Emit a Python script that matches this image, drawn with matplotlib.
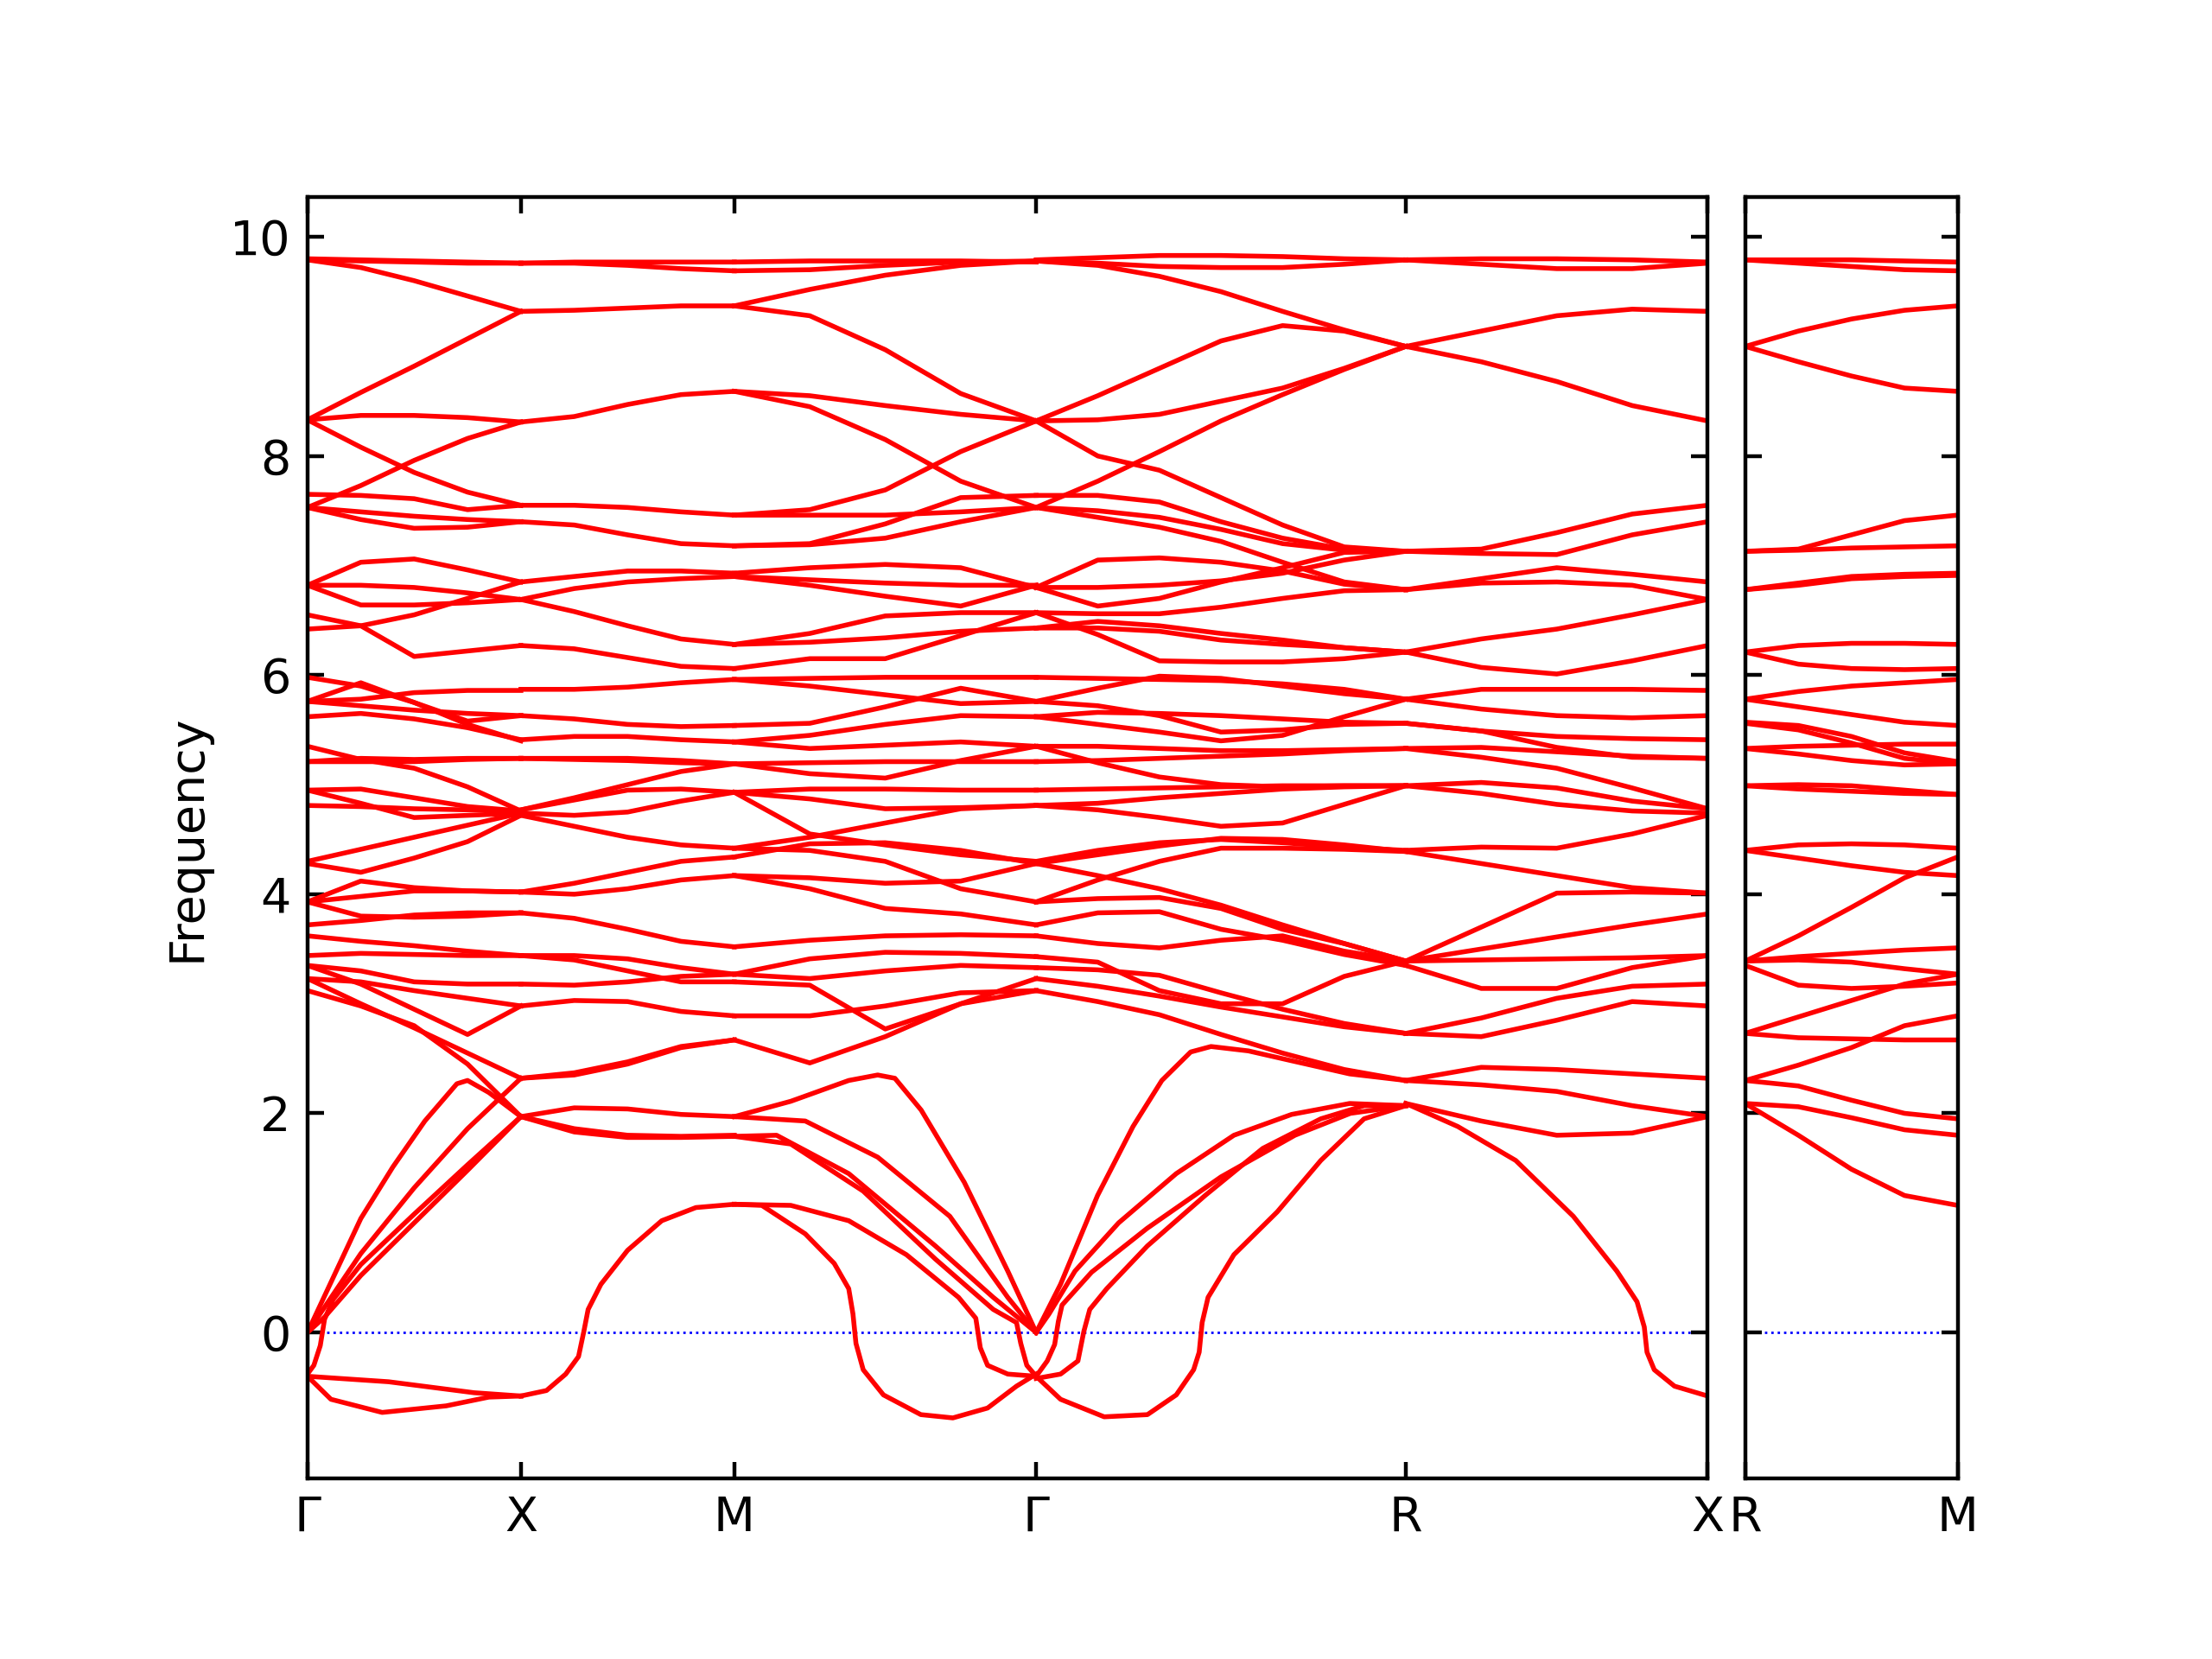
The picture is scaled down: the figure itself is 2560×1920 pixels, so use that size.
import numpy as np
import matplotlib
matplotlib.use('Agg')
import matplotlib.pyplot as plt

# high-symmetry path: segment lengths in reciprocal units
labels_main = ['Γ', 'X', 'M', 'Γ', 'R', 'X']
seg_len = [1.0, 1.0, np.sqrt(2), np.sqrt(3), np.sqrt(2)]
labels_side = ['R', 'M']

# ---- band values read along each segment (equally spaced samples) ----
gx_bands = [
    [9.79, 9.78, 9.77, 9.76, 9.76],
    [9.80, 9.79, 9.78, 9.77, 9.76],
    [9.79, 9.72, 9.60, 9.46, 9.32],
    [8.33, 8.58, 8.82, 9.07, 9.32],
    [8.33, 8.37, 8.37, 8.35, 8.31],
    [8.33, 8.08, 7.85, 7.67, 7.55],
    [7.53, 7.73, 7.96, 8.16, 8.31],
    [7.65, 7.64, 7.61, 7.51, 7.55],
    [7.53, 7.49, 7.45, 7.42, 7.40],
    [7.53, 7.42, 7.34, 7.35, 7.40],
    [6.82, 7.03, 7.06, 6.96, 6.85],
    [6.82, 6.82, 6.80, 6.75, 6.69],
    [6.82, 6.64, 6.64, 6.66, 6.69],
    [6.42, 6.45, 6.55, 6.70, 6.85],
    [6.55, 6.45, 6.17, 6.22, 6.27],
    [5.98, 5.90, 5.75, 5.55, 5.40],
    [5.76, 5.93, 5.75, 5.58, 5.63],
    [5.76, 5.78, 5.84, 5.86, 5.86],
    [5.76, 5.72, 5.68, 5.65, 5.63],
    [5.62, 5.65, 5.60, 5.52, 5.41],
    [5.35, 5.23, 5.15, 4.98, 4.76],
    [5.21, 5.21, 5.21, 5.23, 5.24],
    [5.21, 5.24, 5.23, 5.24, 5.24],
    [4.95, 4.96, 4.88, 4.80, 4.76],
    [4.81, 4.80, 4.78, 4.77, 4.76],
    [4.95, 4.83, 4.70, 4.72, 4.74],
    [4.30, 4.41, 4.52, 4.63, 4.74],
    [4.28, 4.20, 4.33, 4.48, 4.72],
    [3.93, 4.12, 4.06, 4.03, 4.02],
    [3.93, 3.98, 4.03, 4.03, 4.02],
    [3.93, 3.80, 3.79, 3.80, 3.83],
    [3.72, 3.76, 3.81, 3.83, 3.83],
    [3.62, 3.57, 3.53, 3.48, 3.44],
    [3.44, 3.46, 3.45, 3.44, 3.44],
    [3.35, 3.30, 3.20, 3.18, 3.18],
    [3.35, 3.18, 2.95, 2.72, 2.98],
    [3.23, 3.20, 3.12, 3.05, 2.98],
    [3.23, 3.00, 2.78, 2.55, 2.32],
    [3.12, 2.98, 2.80, 2.45, 1.97],
]

xm_bands = [
    [9.76, 9.77, 9.77, 9.77, 9.77],
    [9.76, 9.76, 9.74, 9.71, 9.69],
    [9.32, 9.33, 9.35, 9.37, 9.37],
    [8.31, 8.36, 8.47, 8.56, 8.59],
    [7.55, 7.55, 7.53, 7.49, 7.46],
    [7.40, 7.37, 7.28, 7.20, 7.18],
    [6.85, 6.90, 6.95, 6.95, 6.93],
    [6.69, 6.79, 6.85, 6.88, 6.90],
    [6.69, 6.58, 6.45, 6.33, 6.28],
    [6.27, 6.24, 6.16, 6.08, 6.06],
    [5.87, 5.87, 5.89, 5.93, 5.96],
    [5.63, 5.60, 5.55, 5.53, 5.54],
    [5.41, 5.44, 5.44, 5.41, 5.39],
    [5.24, 5.24, 5.24, 5.22, 5.19],
    [5.24, 5.23, 5.22, 5.20, 5.19],
    [4.77, 4.88, 5.00, 5.12, 5.19],
    [4.77, 4.86, 4.95, 4.96, 4.93],
    [4.74, 4.72, 4.75, 4.85, 4.93],
    [4.72, 4.62, 4.52, 4.45, 4.42],
    [4.02, 4.10, 4.20, 4.30, 4.34],
    [4.02, 4.00, 4.05, 4.13, 4.17],
    [3.83, 3.78, 3.68, 3.57, 3.52],
    [3.44, 3.44, 3.41, 3.33, 3.27],
    [3.44, 3.40, 3.30, 3.20, 3.20],
    [3.18, 3.17, 3.20, 3.25, 3.27],
    [2.98, 3.03, 3.02, 2.93, 2.89],
    [2.32, 2.35, 2.45, 2.60, 2.67],
    [2.32, 2.37, 2.47, 2.61, 2.67],
    [1.97, 2.05, 2.04, 1.99, 1.97],
    [1.97, 1.83, 1.78, 1.78, 1.79],
    [1.97, 1.86, 1.80, 1.79, 1.80],
]

mg_bands = [
    [9.77, 9.78, 9.78, 9.78, 9.77],
    [9.69, 9.70, 9.74, 9.77, 9.78],
    [9.37, 9.52, 9.65, 9.74, 9.78],
    [9.37, 9.28, 8.97, 8.57, 8.32],
    [8.59, 8.55, 8.46, 8.38, 8.32],
    [8.59, 8.45, 8.15, 7.77, 7.53],
    [7.46, 7.51, 7.69, 8.04, 8.32],
    [7.46, 7.46, 7.46, 7.49, 7.53],
    [7.18, 7.20, 7.38, 7.62, 7.64],
    [7.18, 7.19, 7.25, 7.40, 7.53],
    [6.93, 6.98, 7.01, 6.98, 6.80],
    [6.90, 6.87, 6.84, 6.82, 6.82],
    [6.90, 6.82, 6.72, 6.63, 6.82],
    [6.28, 6.38, 6.54, 6.57, 6.57],
    [6.06, 6.15, 6.15, 6.36, 6.57],
    [6.28, 6.30, 6.34, 6.40, 6.43],
    [5.96, 5.97, 5.98, 5.98, 5.98],
    [5.96, 5.90, 5.82, 5.74, 5.76],
    [5.54, 5.56, 5.71, 5.88, 5.76],
    [5.39, 5.45, 5.55, 5.63, 5.62],
    [5.39, 5.33, 5.36, 5.39, 5.35],
    [5.19, 5.20, 5.21, 5.21, 5.21],
    [5.19, 5.10, 5.06, 5.22, 5.35],
    [4.93, 4.96, 4.96, 4.95, 4.95],
    [4.93, 4.87, 4.78, 4.79, 4.81],
    [4.93, 4.55, 4.45, 4.36, 4.30],
    [4.42, 4.52, 4.65, 4.78, 4.81],
    [4.42, 4.40, 4.30, 4.05, 3.93],
    [4.34, 4.46, 4.47, 4.40, 4.28],
    [4.17, 4.05, 3.87, 3.82, 3.72],
    [4.17, 4.15, 4.10, 4.12, 4.28],
    [3.52, 3.58, 3.62, 3.63, 3.62],
    [3.27, 3.41, 3.47, 3.46, 3.43],
    [3.27, 3.23, 3.30, 3.35, 3.33],
    [3.20, 3.17, 2.77, 3.00, 3.23],
    [2.89, 2.89, 2.98, 3.10, 3.12],
    [2.67, 2.46, 2.70, 3.00, 3.12],
]

gr_bands = [
    [9.79, 9.81, 9.83, 9.83, 9.82, 9.80, 9.79],
    [9.78, 9.76, 9.73, 9.72, 9.72, 9.75, 9.79],
    [9.78, 9.74, 9.64, 9.50, 9.32, 9.15, 9.00],
    [8.32, 8.55, 8.80, 9.05, 9.19, 9.14, 9.00],
    [8.32, 8.33, 8.38, 8.50, 8.62, 8.80, 9.00],
    [8.32, 8.00, 7.87, 7.62, 7.37, 7.17, 7.13],
    [7.53, 7.77, 8.04, 8.32, 8.56, 8.79, 9.00],
    [7.64, 7.64, 7.58, 7.40, 7.25, 7.15, 7.13],
    [7.53, 7.50, 7.44, 7.33, 7.20, 7.14, 7.13],
    [7.53, 7.44, 7.35, 7.22, 7.03, 6.85, 6.78],
    [6.80, 7.05, 7.07, 7.03, 6.95, 6.83, 6.78],
    [6.80, 6.80, 6.82, 6.86, 6.93, 7.05, 7.13],
    [6.80, 6.63, 6.70, 6.85, 6.98, 7.12, 7.13],
    [6.57, 6.56, 6.56, 6.62, 6.70, 6.77, 6.78],
    [6.43, 6.49, 6.45, 6.38, 6.32, 6.25, 6.21],
    [6.57, 6.37, 6.13, 6.12, 6.12, 6.15, 6.21],
    [6.43, 6.43, 6.40, 6.32, 6.28, 6.25, 6.21],
    [5.98, 5.97, 5.96, 5.95, 5.92, 5.87, 5.78],
    [5.76, 5.88, 5.99, 5.97, 5.90, 5.83, 5.78],
    [5.76, 5.72, 5.63, 5.48, 5.50, 5.55, 5.56],
    [5.62, 5.66, 5.65, 5.63, 5.60, 5.57, 5.56],
    [5.62, 5.55, 5.48, 5.40, 5.45, 5.62, 5.78],
    [5.35, 5.35, 5.33, 5.31, 5.31, 5.32, 5.33],
    [5.21, 5.22, 5.24, 5.26, 5.28, 5.31, 5.33],
    [5.35, 5.20, 5.07, 5.00, 4.98, 4.99, 4.99],
    [4.95, 4.96, 4.97, 4.98, 4.99, 4.99, 4.99],
    [4.81, 4.77, 4.70, 4.62, 4.65, 4.82, 4.99],
    [4.81, 4.83, 4.88, 4.92, 4.96, 4.98, 4.99],
    [4.30, 4.40, 4.47, 4.50, 4.47, 4.43, 4.40],
    [4.28, 4.36, 4.44, 4.51, 4.50, 4.45, 4.39],
    [3.93, 4.13, 4.30, 4.42, 4.42, 4.41, 4.39],
    [4.28, 4.17, 4.05, 3.90, 3.72, 3.55, 3.39],
    [3.93, 3.96, 3.97, 3.87, 3.68, 3.55, 3.39],
    [3.72, 3.83, 3.84, 3.68, 3.58, 3.45, 3.35],
    [3.62, 3.55, 3.51, 3.58, 3.62, 3.48, 3.39],
    [3.43, 3.38, 3.12, 3.00, 3.00, 3.25, 3.39],
    [3.33, 3.31, 3.26, 3.10, 2.95, 2.82, 2.73],
    [3.23, 3.16, 3.07, 2.97, 2.88, 2.79, 2.73],
    [3.12, 3.02, 2.90, 2.72, 2.55, 2.40, 2.30],
]

rx_bands = [
    [9.79, 9.80, 9.80, 9.79, 9.77],
    [9.79, 9.75, 9.71, 9.71, 9.76],
    [9.00, 9.14, 9.28, 9.34, 9.32],
    [9.00, 8.86, 8.68, 8.46, 8.32],
    [7.13, 7.15, 7.30, 7.47, 7.55],
    [7.13, 7.11, 7.10, 7.28, 7.40],
    [6.78, 6.88, 6.98, 6.92, 6.85],
    [6.78, 6.84, 6.85, 6.82, 6.69],
    [6.21, 6.33, 6.42, 6.55, 6.69],
    [6.21, 6.07, 6.01, 6.13, 6.27],
    [5.78, 5.87, 5.87, 5.87, 5.86],
    [5.78, 5.69, 5.63, 5.61, 5.63],
    [5.56, 5.49, 5.44, 5.42, 5.41],
    [5.56, 5.49, 5.34, 5.25, 5.24],
    [5.33, 5.34, 5.30, 5.26, 5.24],
    [5.33, 5.25, 5.15, 4.97, 4.78],
    [4.99, 5.02, 4.97, 4.85, 4.78],
    [4.99, 4.92, 4.82, 4.76, 4.74],
    [4.40, 4.43, 4.42, 4.55, 4.72],
    [4.39, 4.28, 4.17, 4.06, 4.01],
    [3.39, 3.70, 4.01, 4.02, 4.01],
    [3.39, 3.50, 3.61, 3.72, 3.82],
    [3.39, 3.40, 3.41, 3.42, 3.44],
    [3.35, 3.14, 3.14, 3.33, 3.44],
    [2.73, 2.87, 3.05, 3.16, 3.18],
    [2.73, 2.70, 2.85, 3.02, 2.98],
    [2.30, 2.42, 2.40, 2.36, 2.32],
    [2.30, 2.26, 2.20, 2.07, 1.97],
    [2.09, 1.93, 1.80, 1.82, 1.97],
]

rm_bands = [
    [9.79, 9.79, 9.79, 9.78, 9.77],
    [9.79, 9.76, 9.73, 9.70, 9.69],
    [9.00, 9.14, 9.25, 9.33, 9.37],
    [9.00, 8.86, 8.73, 8.62, 8.59],
    [7.13, 7.15, 7.28, 7.41, 7.46],
    [7.13, 7.14, 7.16, 7.17, 7.18],
    [6.78, 6.82, 6.88, 6.90, 6.91],
    [6.78, 6.84, 6.90, 6.92, 6.93],
    [6.21, 6.27, 6.29, 6.29, 6.28],
    [6.21, 6.10, 6.06, 6.05, 6.06],
    [5.78, 5.85, 5.90, 5.93, 5.96],
    [5.78, 5.71, 5.64, 5.57, 5.54],
    [5.57, 5.54, 5.44, 5.29, 5.21],
    [5.56, 5.50, 5.38, 5.24, 5.19],
    [5.33, 5.35, 5.36, 5.37, 5.37],
    [5.33, 5.28, 5.22, 5.18, 5.19],
    [4.99, 5.00, 4.99, 4.95, 4.91],
    [4.99, 4.96, 4.94, 4.92, 4.91],
    [4.40, 4.45, 4.46, 4.45, 4.42],
    [4.40, 4.33, 4.26, 4.20, 4.17],
    [3.39, 3.62, 3.88, 4.15, 4.34],
    [3.39, 3.43, 3.46, 3.49, 3.51],
    [3.35, 3.17, 3.14, 3.16, 3.19],
    [3.39, 3.40, 3.38, 3.32, 3.27],
    [2.73, 2.88, 3.03, 3.18, 3.27],
    [2.73, 2.69, 2.68, 2.67, 2.67],
    [2.30, 2.44, 2.60, 2.80, 2.89],
    [2.30, 2.25, 2.12, 2.00, 1.95],
    [2.09, 2.06, 1.96, 1.85, 1.80],
    [2.09, 1.80, 1.49, 1.25, 1.16],
]

# ---- acoustic / soft branches: (fraction along segment, frequency) ----
gx_soft = [
    ([0, .25, .4, .55, .7, .75, .85, 1], [0, 1.04, 1.51, 1.93, 2.27, 2.30, 2.19, 1.97]),
    ([0, .25, .5, .75, 1], [0, 0.72, 1.32, 1.86, 2.32]),
    ([0, .08, .25, .5, .75, 1], [0, 0.14, 0.52, 1.0, 1.48, 1.97]),
    ([0, .03, .06, .08, .12, .25, .5, .75, 1], [-0.38, -0.30, -0.12, 0.12, 0.30, 0.62, 1.08, 1.53, 1.97]),
    ([0, .38, .78, 1], [-0.40, -0.45, -0.55, -0.58]),
    ([0, .11, .35, .65, .85, 1], [-0.40, -0.61, -0.73, -0.67, -0.59, -0.58]),
]

xm_soft = [
    ([0, .12, .21, .27, .295, .315, .375, .5, .66, .82, 1],
     [-0.58, -0.53, -0.38, -0.22, 0.01, 0.21, 0.44, 0.75, 1.02, 1.14, 1.17]),
]

mg_soft = [
    ([0, .187, .379, .475, .532, .619, .762, .906, 1], [1.97, 2.11, 2.30, 2.35, 2.32, 2.03, 1.37, 0.56, 0]),
    ([0, .235, .475, .714, .906, 1], [1.97, 1.93, 1.60, 1.06, 0.32, 0]),
    ([0, .14, .379, .666, .858, 1], [1.79, 1.80, 1.45, 0.79, 0.32, 0]),
    ([0, .187, .427, .666, .858, .935, .949, .969, 1], [1.79, 1.72, 1.29, 0.67, 0.21, 0.09, -0.10, -0.30, -0.40]),
    ([0, .091, .235, .331, .379, .393, .403, .427, .494, .618, .724, .839, .935, 1],
     [1.17, 1.16, 0.90, 0.63, 0.40, 0.17, -0.10, -0.34, -0.57, -0.75, -0.78, -0.69, -0.49, -0.38]),
    ([0, .187, .379, .57, .743, .8, .815, .839, .906, 1],
     [1.17, 1.16, 1.02, 0.71, 0.32, 0.13, -0.14, -0.30, -0.38, -0.40]),
]

gr_soft = [
    ([0, .066, .166, .262, .34, .418, .473, .574, .691, .848, 1],
     [0, 0.44, 1.25, 1.88, 2.30, 2.56, 2.61, 2.57, 2.48, 2.36, 2.30]),
    ([0, .035, .105, .223, .379, .535, .691, .848, 1], [0, 0.17, 0.56, 1.00, 1.45, 1.80, 1.99, 2.09, 2.07]),
    ([0, .03, .05, .06, .07, .15, .3, .5, .7, .85, 1],
     [-0.40, -0.26, -0.11, 0.10, 0.25, 0.55, 0.95, 1.42, 1.80, 2.0, 2.07]),
    ([0, .066, .113, .129, .145, .191, .301, .457, .613, .77, .887, 1],
     [-0.42, -0.38, -0.26, 0.01, 0.21, 0.40, 0.79, 1.25, 1.68, 1.95, 2.07, 2.07]),
    ([0, .066, .184, .301, .379, .426, .441, .449, .465, .535, .652, .77, .887, 1],
     [-0.40, -0.61, -0.77, -0.75, -0.57, -0.34, -0.18, 0.09, 0.32, 0.71, 1.10, 1.57, 1.95, 2.07]),
]

rx_soft = [
    ([0, .172, .364, .555, .699, .766, .79, .799, .823, .89, 1],
     [2.09, 1.88, 1.57, 1.06, 0.56, 0.28, 0.05, -0.18, -0.34, -0.49, -0.58]),
]

rm_soft = []

main_segments = [(gx_bands, gx_soft), (xm_bands, xm_soft), (mg_bands, mg_soft),
                 (gr_bands, gr_soft), (rx_bands, rx_soft)]

ymin, ymax = -1.33, 10.36
lc = 'red'
lw = 1.0


def draw_segment(ax, x0, length, bands, soft):
    for vals in bands:
        k = np.linspace(x0, x0 + length, len(vals))
        ax.plot(k, vals, color=lc, lw=lw, solid_joinstyle='round')
    for fr, vals in soft:
        k = x0 + length * np.array(fr)
        ax.plot(k, vals, color=lc, lw=lw, solid_joinstyle='round')


fig = plt.figure(figsize=(6.4, 4.8), dpi=400)
ax1 = fig.add_axes([0.139, 0.109, 0.633, 0.772])
ax2 = fig.add_axes([0.789, 0.109, 0.096, 0.772])

ticks = np.concatenate([[0], np.cumsum(seg_len)])

ax1.axhline(0, color='blue', ls=':', lw=0.5, zorder=1)
for i, (bands, soft) in enumerate(main_segments):
    draw_segment(ax1, ticks[i], seg_len[i], bands, soft)
ax1.set_xlim(ticks[0], ticks[-1])
ax1.set_ylim(ymin, ymax)
ax1.set_xticks(ticks)
ax1.set_xticklabels(labels_main)
ax1.set_yticks([0, 2, 4, 6, 8, 10])
ax1.set_ylabel('Frequency')
ax1.tick_params(direction='in', top=True, right=True, labelsize=10)

ax2.axhline(0, color='blue', ls=':', lw=0.5, zorder=1)
draw_segment(ax2, 0, 1.0, rm_bands, rm_soft)
ax2.set_xlim(0, 1)
ax2.set_ylim(ymin, ymax)
ax2.set_xticks([0, 1])
ax2.set_xticklabels(labels_side)
ax2.set_yticks([0, 2, 4, 6, 8, 10])
ax2.set_yticklabels([])
ax2.tick_params(direction='in', top=True, right=True, labelsize=10)

plt.savefig('out.png', dpi=400)
